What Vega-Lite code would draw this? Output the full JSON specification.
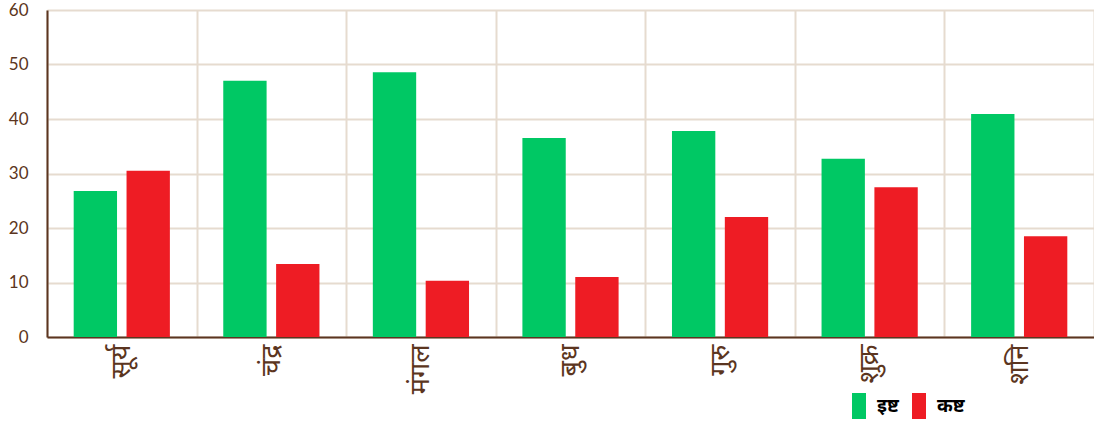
{
  "$schema": "https://vega.github.io/schema/vega-lite/v6.json",
  "autosize": {"type": "none"},
  "padding": {"left": 47, "top": 10, "right": 0, "bottom": 87},
  "width": 1047,
  "height": 327,
  "background": "white",
  "data": {"values": [
    {"graha": "सूर्य", "type": "इष्ट", "value": 26.8},
    {"graha": "सूर्य", "type": "कष्ट", "value": 30.5},
    {"graha": "चंद्र", "type": "इष्ट", "value": 47.0},
    {"graha": "चंद्र", "type": "कष्ट", "value": 13.4},
    {"graha": "मंगल", "type": "इष्ट", "value": 48.6},
    {"graha": "मंगल", "type": "कष्ट", "value": 10.3},
    {"graha": "बुध", "type": "इष्ट", "value": 36.5},
    {"graha": "बुध", "type": "कष्ट", "value": 11.0},
    {"graha": "गुरु", "type": "इष्ट", "value": 37.8},
    {"graha": "गुरु", "type": "कष्ट", "value": 22.0},
    {"graha": "शुक्र", "type": "इष्ट", "value": 32.7},
    {"graha": "शुक्र", "type": "कष्ट", "value": 27.5},
    {"graha": "शनि", "type": "इष्ट", "value": 40.9},
    {"graha": "शनि", "type": "कष्ट", "value": 18.5}
  ]},
  "mark": {"type": "bar"},
  "encoding": {
    "x": {
      "field": "graha", "type": "nominal", "sort": null,
      "scale": {"paddingInner": 0, "paddingOuter": 0},
      "axis": {
        "title": null, "labelAngle": -90, "labelFontSize": 27, "labelColor": "#5b3520",
        "labelPadding": 7, "ticks": false, "tickBand": "extent", "grid": true,
        "gridColor": "#e6dbcf", "gridWidth": 2, "domainColor": "#5b3520", "domainWidth": 2,
        "labelFont": "Noto Sans"
      }
    },
    "xOffset": {
      "field": "type", "type": "nominal", "sort": ["इष्ट", "कष्ट"],
      "scale": {"paddingInner": 0.18, "paddingOuter": 0.505}
    },
    "y": {
      "field": "value", "type": "quantitative",
      "scale": {"domain": [0, 60]},
      "axis": {
        "title": null, "values": [0, 10, 20, 30, 40, 50, 60], "ticks": false,
        "labelFontSize": 17, "labelColor": "#5b3520", "labelPadding": 19,
        "gridColor": "#e6dbcf", "gridWidth": 2, "domainColor": "#5b3520", "domainWidth": 2,
        "labelFont": "Lato"
      }
    },
    "color": {
      "field": "type", "type": "nominal",
      "scale": {"domain": ["इष्ट", "कष्ट"], "range": ["#00c864", "#ee1c24"]},
      "legend": {
        "title": null, "orient": "none", "direction": "horizontal",
        "legendX": 799, "legendY": 383, "padding": 0,
        "symbolType": "M-0.54,-1H0.54V1H-0.54Z", "symbolSize": 676,
        "symbolStrokeWidth": 0, "symbolOpacity": 1,
        "labelFontSize": 19, "labelFontWeight": "bold", "labelColor": "#000000",
        "labelOffset": 5, "columnPadding": 7, "labelFont": "Noto Sans"
      }
    }
  },
  "config": {"view": {"stroke": null}}
}
